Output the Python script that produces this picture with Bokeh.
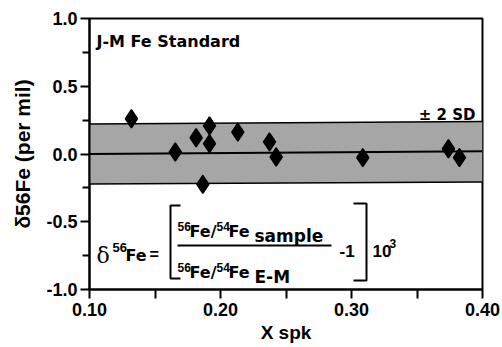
from bokeh.plotting import figure
from bokeh.models import Range1d, FixedTicker, NumeralTickFormatter, Label
from bokeh.embed import file_html
from bokeh.resources import INLINE

# ---- data ----
x_spk = [0.132, 0.1655, 0.1814, 0.1865, 0.1916, 0.1916, 0.2132, 0.2374, 0.2425, 0.3086, 0.374, 0.3824]
d56fe = [0.26, 0.015, 0.12, -0.224, 0.207, 0.076, 0.162, 0.089, -0.022, -0.027, 0.039, -0.027]

band_x = [0.10, 0.40]
band_lo = [-0.222, -0.206]
band_hi = [0.221, 0.240]
mean_y = [0.0, 0.021]

x_ticks = [0.10, 0.20, 0.30, 0.40]
x_minor = [0.15, 0.25, 0.35]
y_ticks = [-1.0, -0.5, 0.0, 0.5, 1.0]
y_minor = [-0.75, -0.25, 0.25, 0.75]

XMIN, XMAX, YMIN, YMAX = 0.10, 0.40, -1.0, 1.0

# frame placement (canvas pixels)
FX0, FY0, FW, FH = 89, 18, 393, 271
W, H = 502, 347

def px2x(px):
    return XMIN + (px - FX0) / FW * (XMAX - XMIN)

def py2y(py):
    return YMAX - (py - FY0) / FH * (YMAX - YMIN)

p = figure(width=W, height=H, x_range=Range1d(XMIN, XMAX), y_range=Range1d(YMIN, YMAX),
           output_backend="svg", toolbar_location=None,
           min_border_left=FX0, min_border_top=FY0,
           min_border_right=W - FX0 - FW, min_border_bottom=H - FY0 - FH)
p.grid.visible = False
p.outline_line_color = "black"
p.outline_line_width = 2
p.background_fill_color = "white"
p.border_fill_color = "white"

for ax in (p.xaxis[0], p.yaxis[0]):
    ax.axis_line_width = 2
    ax.axis_line_color = "black"
    ax.major_tick_line_width = 2
    ax.minor_tick_line_width = 2
    ax.major_tick_line_color = "black"
    ax.minor_tick_line_color = "black"
    ax.major_tick_in = 0
    ax.minor_tick_in = 0
    ax.major_tick_out = 9
    ax.major_label_text_font = "Liberation Sans"
    ax.major_label_text_font_style = "bold"
    ax.major_label_text_font_size = "18px"
    ax.major_label_text_color = "black"
    ax.axis_label_text_font = "Liberation Sans"
    ax.axis_label_text_font_style = "bold"
    ax.axis_label_text_color = "black"

p.xaxis.ticker = FixedTicker(ticks=x_ticks, minor_ticks=x_minor)
p.xaxis.formatter = NumeralTickFormatter(format="0.00")
p.xaxis.minor_tick_out = 9
p.xaxis.major_label_standoff = 4
p.xaxis.axis_label = "X spk"
p.xaxis.axis_label_text_font_size = "19px"
p.xaxis.axis_label_standoff = 3

p.yaxis.ticker = FixedTicker(ticks=y_ticks, minor_ticks=y_minor)
p.yaxis.formatter = NumeralTickFormatter(format="0.0")
p.yaxis.minor_tick_out = 7
p.yaxis.major_label_standoff = 3
p.yaxis.axis_label = "\u03b456Fe (per mil)"
p.yaxis.axis_label_text_font_size = "21px"
p.yaxis.axis_label_standoff = 9

# band (+/- 2 SD), mean line, data
p.varea(x=band_x, y1=band_lo, y2=band_hi, fill_color="#a6a6a6")
p.line(band_x, band_hi, line_color="black", line_width=1.5)
p.line(band_x, band_lo, line_color="black", line_width=1.5)
p.line(band_x, mean_y, line_color="black", line_width=2)
p.scatter(x_spk, d56fe, marker="diamond", size=18, fill_color="black",
          line_color="black", line_width=1.5)


def lab(text, px, py, size, font="Liberation Sans", style="bold", align="left"):
    p.add_layout(Label(x=px2x(px), y=py2y(py), text=text, text_font=font,
                       text_font_style=style, text_font_size=f"{size}px", text_color="black",
                       text_align=align, text_baseline="alphabetic"))

# titles inside frame
lab("J-M Fe Standard", 96, 41, 16, font="DejaVu Sans")
lab("\u00b1 2 SD", 475, 114, 15, font="DejaVu Sans", align="right")

# formula
lab("\u03b4", 96, 255, 22, font="DejaVu Serif", style="normal")
lab("56", 112, 247, 13)
lab("Fe", 125, 255, 16, font="DejaVu Sans")
lab("=", 149, 254, 16)

for base, sub in ((231, "sample"), (272, "E-M")):
    lab("56", 177, base - 5, 12)
    lab("Fe/", 189, base, 16, font="DejaVu Sans")
    lab("54", 216, base - 5, 12)
    lab("Fe", 228, base, 16, font="DejaVu Sans")
    lab(sub, 254, base + 4, 17, font="DejaVu Sans")

lab("-1", 339, 250, 17)
lab("10", 372, 250, 17)
lab("3", 389, 243, 12)

# fraction bar and brackets
p.line([px2x(177), px2x(331)], [py2y(245), py2y(245)], line_color="black", line_width=2)
p.line([px2x(180), px2x(170), px2x(170), px2x(180)],
       [py2y(205), py2y(205), py2y(278), py2y(278)], line_color="black", line_width=2)
p.line([px2x(353), px2x(366), px2x(366), px2x(353)],
       [py2y(203), py2y(203), py2y(280), py2y(280)], line_color="black", line_width=2)

open("out.html", "w").write(file_html(p, INLINE))
